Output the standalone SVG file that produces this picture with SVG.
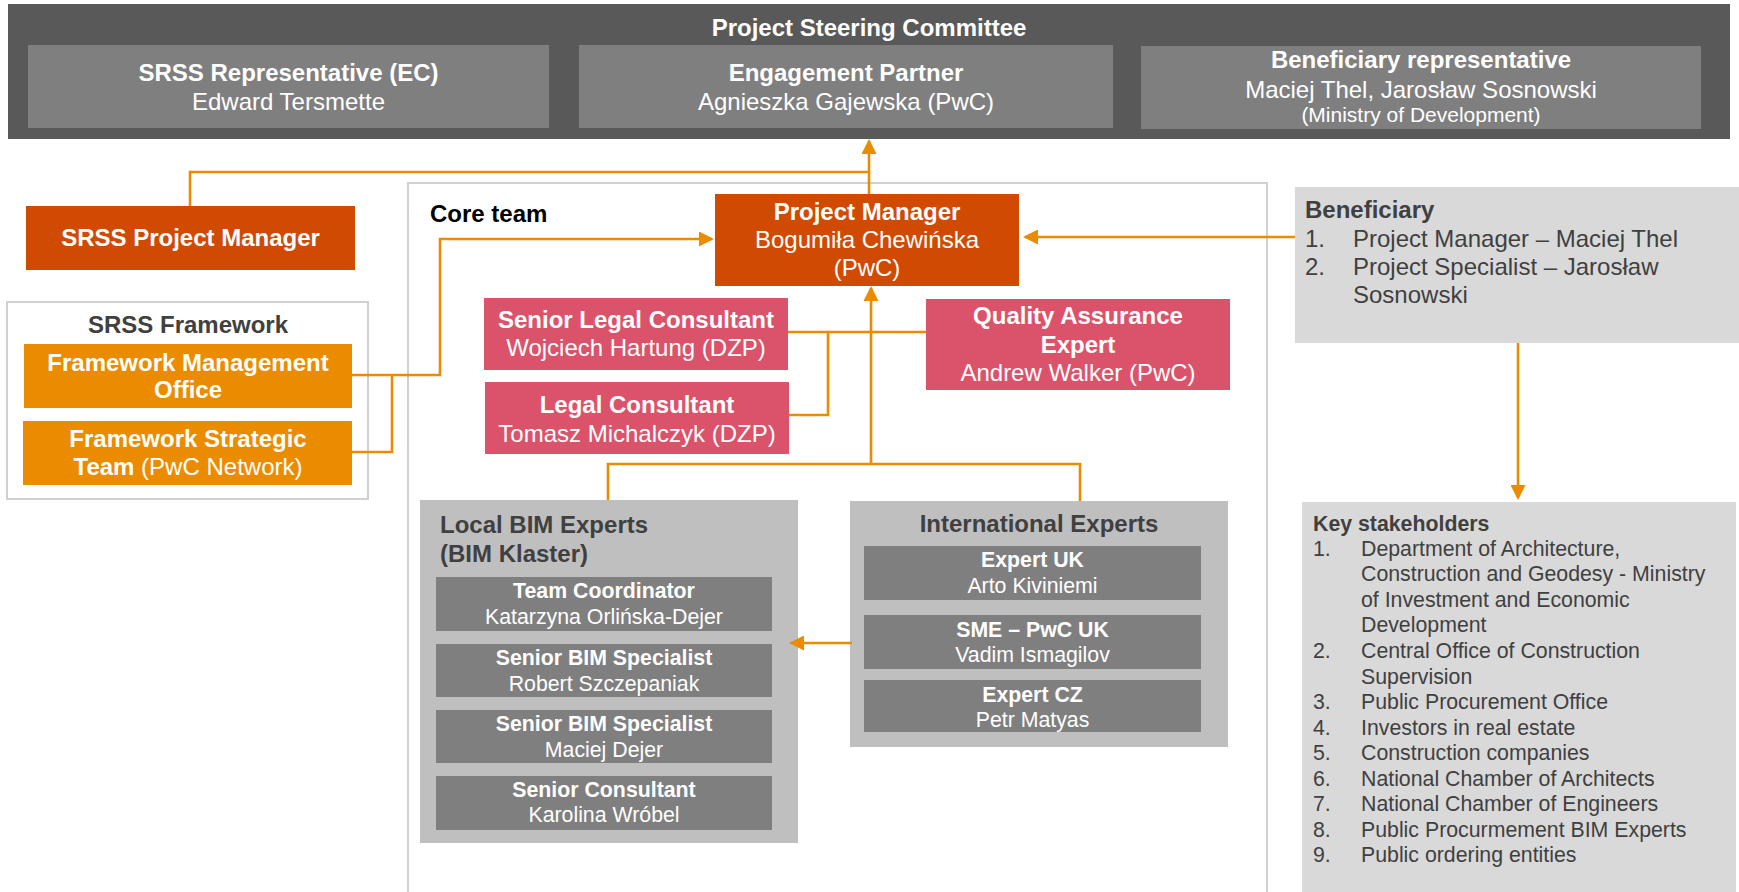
<svg xmlns="http://www.w3.org/2000/svg" width="1739" height="892" viewBox="0 0 1739 892">
<defs>
<style>
text{font-family:"Liberation Sans",Arial,sans-serif;}
.b{font-weight:bold;}
.w{fill:#ffffff;}
.d{fill:#404040;}
.c{text-anchor:middle;}
.f24{font-size:24px;}
.f21{font-size:21.3px;}
.conn{fill:none;stroke:#EB8C00;stroke-width:2.6;}
.arr{marker-end:url(#ah);}
.frame{fill:#ffffff;stroke:#D0D0D0;stroke-width:2;}
.steer{fill:#7F7F7F;}
.pm{fill:#D04A02;}
.fw{fill:#EB8C00;}
.rose{fill:#DB536A;}
.grp{fill:#BFBFBF;}
.inner{fill:#7F7F7F;}
.lite{fill:#D9D9D9;}
</style>
<marker id="ah" viewBox="0 0 15 15" refX="13" refY="7.5" markerWidth="15" markerHeight="15" markerUnits="userSpaceOnUse" orient="auto">
<path d="M0,0 L15,7.5 L0,15 z" fill="#EB8C00"/>
</marker>
</defs>
<rect x="0" y="0" width="1739" height="892" fill="#ffffff"/>

<g id="core-team-frame">
<rect class="frame" x="408" y="183" width="859" height="730" fill="none"/>
<text class="b f24" x="430" y="222" fill="#000000">Core team</text>
</g>

<g id="steering-committee">
<rect x="8" y="4" width="1722" height="135" fill="#595959"/>
<text class="b f24 w c" x="869" y="36">Project Steering Committee</text>
<g id="srss-representative">
<rect class="steer" x="28" y="45" width="521" height="83"/>
<text class="b f24 w c" x="288.5" y="81">SRSS Representative (EC)</text>
<text class="f24 w c" x="288.5" y="110">Edward Tersmette</text>
</g>
<g id="engagement-partner">
<rect class="steer" x="579" y="45" width="534" height="83"/>
<text class="b f24 w c" x="846" y="81">Engagement Partner</text>
<text class="f24 w c" x="846" y="110">Agnieszka Gajewska (PwC)</text>
</g>
<g id="beneficiary-representative">
<rect class="steer" x="1141" y="46" width="560" height="83"/>
<text class="b f24 w c" x="1421" y="68">Beneficiary representative</text>
<text class="f24 w c" x="1421" y="98">Maciej Thel, Jarosław Sosnowski</text>
<text class="w c" x="1421" y="122" font-size="21px">(Ministry of Development)</text>
</g>
</g>

<g id="srss-project-manager">
<rect class="pm" x="26" y="206" width="329" height="64"/>
<text class="b f24 w c" x="190.5" y="246">SRSS Project Manager</text>
</g>

<g id="srss-framework">
<rect class="frame" x="7" y="302" width="361" height="197"/>
<text class="b f24 d c" x="188" y="333">SRSS Framework</text>
<g id="framework-management-office">
<rect class="fw" x="24" y="344" width="328" height="64"/>
<text class="b f24 w c" x="188" y="371">Framework Management</text>
<text class="b f24 w c" x="188" y="398">Office</text>
</g>
<g id="framework-strategic-team">
<rect class="fw" x="23" y="421" width="329" height="64"/>
<text class="b f24 w c" x="188" y="447">Framework Strategic</text>
<text class="f24 w c" x="188" y="475"><tspan class="b">Team</tspan> (PwC Network)</text>
</g>
</g>

<g id="project-manager">
<rect class="pm" x="715" y="194" width="304" height="92"/>
<text class="b f24 w c" x="867" y="220">Project Manager</text>
<text class="f24 w c" x="867" y="248">Bogumiła Chewińska</text>
<text class="f24 w c" x="867" y="276">(PwC)</text>
</g>

<g id="senior-legal-consultant">
<rect class="rose" x="484" y="298" width="304" height="72"/>
<text class="b f24 w c" x="636" y="328">Senior Legal Consultant</text>
<text class="f24 w c" x="636" y="356">Wojciech Hartung (DZP)</text>
</g>

<g id="legal-consultant">
<rect class="rose" x="485" y="382" width="304" height="72"/>
<text class="b f24 w c" x="637" y="413">Legal Consultant</text>
<text class="f24 w c" x="637" y="442">Tomasz Michalczyk (DZP)</text>
</g>

<g id="quality-assurance-expert">
<rect class="rose" x="926" y="299" width="304" height="91"/>
<text class="b f24 w c" x="1078" y="324">Quality Assurance</text>
<text class="b f24 w c" x="1078" y="353">Expert</text>
<text class="f24 w c" x="1078" y="381">Andrew Walker (PwC)</text>
</g>

<g id="local-bim-experts">
<rect class="grp" x="420" y="500" width="378" height="343"/>
<text class="b f24 d" x="440" y="533">Local BIM Experts</text>
<text class="b f24 d" x="440" y="562">(BIM Klaster)</text>
<g id="team-coordinator">
<rect class="inner" x="436" y="577" width="336" height="54"/>
<text class="b f21 w c" x="604" y="598">Team Coordinator</text>
<text class="f21 w c" x="604" y="624">Katarzyna Orlińska-Dejer</text>
</g>
<g id="senior-bim-specialist-1">
<rect class="inner" x="436" y="644" width="336" height="53"/>
<text class="b f21 w c" x="604" y="665">Senior BIM Specialist</text>
<text class="f21 w c" x="604" y="691">Robert Szczepaniak</text>
</g>
<g id="senior-bim-specialist-2">
<rect class="inner" x="436" y="710" width="336" height="53"/>
<text class="b f21 w c" x="604" y="731">Senior BIM Specialist</text>
<text class="f21 w c" x="604" y="757">Maciej Dejer</text>
</g>
<g id="senior-consultant">
<rect class="inner" x="436" y="776" width="336" height="54"/>
<text class="b f21 w c" x="604" y="797">Senior Consultant</text>
<text class="f21 w c" x="604" y="822">Karolina Wróbel</text>
</g>
</g>

<g id="international-experts">
<rect class="grp" x="850" y="501" width="378" height="246"/>
<text class="b f24 d c" x="1039" y="532">International Experts</text>
<g id="expert-uk">
<rect class="inner" x="864" y="546" width="337" height="54"/>
<text class="b f21 w c" x="1032.5" y="567">Expert UK</text>
<text class="f21 w c" x="1032.5" y="593">Arto Kiviniemi</text>
</g>
<g id="sme-pwc-uk">
<rect class="inner" x="864" y="615" width="337" height="54"/>
<text class="b f21 w c" x="1032.5" y="637">SME – PwC UK</text>
<text class="f21 w c" x="1032.5" y="662">Vadim Ismagilov</text>
</g>
<g id="expert-cz">
<rect class="inner" x="864" y="680" width="337" height="52"/>
<text class="b f21 w c" x="1032.5" y="702">Expert CZ</text>
<text class="f21 w c" x="1032.5" y="727">Petr Matyas</text>
</g>
</g>

<g id="beneficiary">
<rect class="lite" x="1295" y="187" width="444" height="156"/>
<text class="b f24 d" x="1305" y="218">Beneficiary</text>
<text class="f24 d" x="1305" y="247">1.</text>
<text class="f24 d" x="1353" y="247">Project Manager – Maciej Thel</text>
<text class="f24 d" x="1305" y="275">2.</text>
<text class="f24 d" x="1353" y="275">Project Specialist – Jarosław</text>
<text class="f24 d" x="1353" y="303">Sosnowski</text>
</g>

<g id="key-stakeholders">
<rect class="lite" x="1302" y="502" width="434" height="395"/>
<text class="b f21 d" x="1313" y="531">Key stakeholders</text>
<g class="f21 d">
<text x="1313" y="555.5">1.</text>
<text x="1361" y="555.5">Department of Architecture,</text>
<text x="1361" y="581">Construction and Geodesy - Ministry</text>
<text x="1361" y="606.5">of Investment and Economic</text>
<text x="1361" y="632">Development</text>
<text x="1313" y="658">2.</text>
<text x="1361" y="658">Central Office of Construction</text>
<text x="1361" y="683.5">Supervision</text>
<text x="1313" y="709">3.</text>
<text x="1361" y="709">Public Procurement Office</text>
<text x="1313" y="735">4.</text>
<text x="1361" y="735">Investors in real estate</text>
<text x="1313" y="760">5.</text>
<text x="1361" y="760">Construction companies</text>
<text x="1313" y="786">6.</text>
<text x="1361" y="786">National Chamber of Architects</text>
<text x="1313" y="811">7.</text>
<text x="1361" y="811">National Chamber of Engineers</text>
<text x="1313" y="837">8.</text>
<text x="1361" y="837">Public Procurmement BIM Experts</text>
<text x="1313" y="862">9.</text>
<text x="1361" y="862">Public ordering entities</text>
</g>
</g>

<g id="connectors">
<path class="conn" d="M190,206 V172 H869"/>
<path class="conn arr" d="M869,194 V141"/>
<path class="conn arr" d="M352,375 H440 V239 H712"/>
<path class="conn" d="M352,452 H392 V375"/>
<path class="conn arr" d="M1295,237 H1025"/>
<path class="conn arr" d="M1518,343 V498"/>
<path class="conn" d="M788,332 H926"/>
<path class="conn" d="M789,415 H828 V332"/>
<path class="conn arr" d="M871,464 V288"/>
<path class="conn" d="M608,500 V464 H1080 V501"/>
<path class="conn arr" d="M852,643 H791"/>
</g>
</svg>
